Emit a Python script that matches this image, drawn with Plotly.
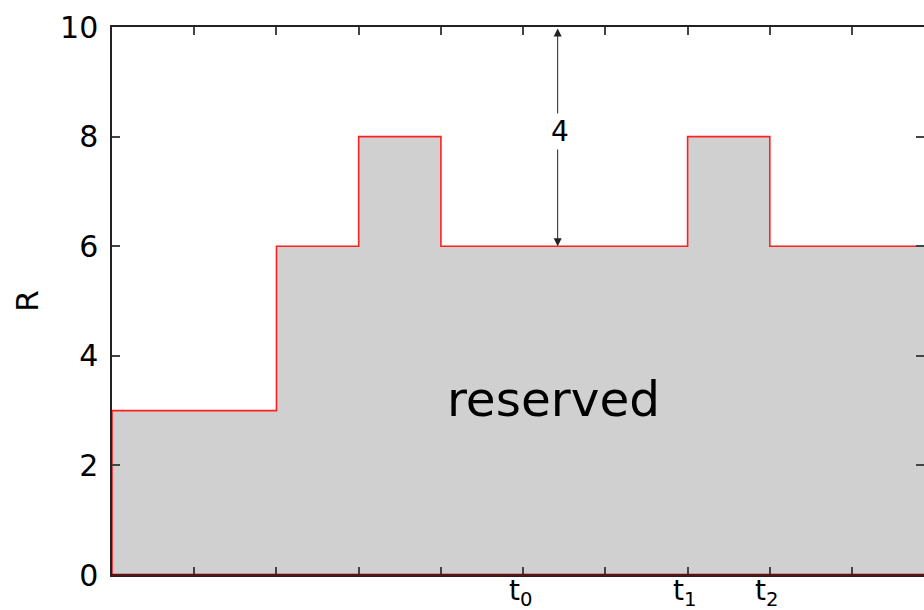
import plotly.graph_objects as go

# step profile of reserved R
step_x = [0, 0, 2, 2, 3, 3, 4, 4, 7, 7, 8, 8, 10]
step_y = [0, 3, 3, 6, 6, 8, 8, 6, 6, 8, 8, 6, 6]

x_tickvals = [0, 1, 2, 3, 4, 5, 6, 7, 8, 9, 10]
x_ticktext = ["", "", "", "", "", "t<sub>0</sub>", "", "t<sub>1</sub>", "t<sub>2</sub>", "", ""]
y_tickvals = [0, 2, 4, 6, 8, 10]

gap_x = 5.42
gap_top = 10
gap_bottom = 6
gap_label = "4"
region_label = "reserved"
region_pos = (5.37, 3.22)

FONT = "DejaVu Sans"

fig = go.Figure()
fig.add_trace(go.Scatter(
    x=step_x, y=step_y, mode="lines", fill="tozeroy",
    fillcolor="#d0d0d0", line=dict(color="#ff2020", width=1.6),
    hoverinfo="skip", showlegend=False))
# invisible trace to carry the right-hand tick axis
fig.add_trace(go.Scatter(
    x=[0, 10], y=[0, 10], yaxis="y2", mode="lines",
    line=dict(width=0, color="rgba(0,0,0,0)"), hoverinfo="skip", showlegend=False))

# double arrow
fig.add_annotation(x=gap_x, y=gap_bottom, ax=gap_x, ay=gap_top,
                   xref="x", yref="y", axref="x", ayref="y",
                   showarrow=True, arrowhead=2, arrowside="end+start",
                   arrowsize=1.6, arrowwidth=1, arrowcolor="#222222", text="")
fig.add_annotation(x=gap_x + 0.03, y=8.1, xref="x", yref="y", text=gap_label,
                   showarrow=False, bgcolor="white",
                   font=dict(family=FONT, size=28, color="black"))
fig.add_annotation(x=region_pos[0], y=region_pos[1], xref="x", yref="y",
                   text=region_label, showarrow=False,
                   font=dict(family=FONT, size=48.5, color="black"))

# x tick labels placed right under the axis
for tv, tt in zip(x_tickvals, x_ticktext):
    if tt:
        fig.add_annotation(x=tv, y=0, xref="x", yref="paper", text=tt,
                           showarrow=False, yanchor="top", xanchor="center",
                           borderpad=0, yshift=2, xshift=-3,
                           font=dict(family=FONT, size=28, color="black"))

# dark red baseline (red outline over the black axis)
fig.add_shape(type="line", xref="paper", yref="paper", x0=0, x1=1, y0=0, y1=0,
              line=dict(color="#5a1212", width=2.5), layer="above")

fig.update_layout(
    width=924, height=610,
    margin=dict(l=112, r=0, t=27, b=35, autoexpand=False),
    paper_bgcolor="white", plot_bgcolor="white",
    font=dict(family=FONT, size=30, color="black"),
    xaxis=dict(range=[0, 9.875], tickvals=x_tickvals, showticklabels=False,
               ticks="inside", ticklen=8, tickwidth=1.5, tickcolor="#444444",
               showline=True, linecolor="#222222", linewidth=1.5, mirror="ticks",
               showgrid=False, zeroline=False, automargin=False),
    yaxis=dict(range=[0, 10], tickvals=y_tickvals,
               ticks="inside", ticklen=8, tickwidth=1.5, tickcolor="#444444",
               showline=True, linecolor="#222222", linewidth=1.5,
               showgrid=False, zeroline=False, ticklabelstandoff=6, automargin=False,
               title=dict(text="R", standoff=12, font=dict(family=FONT, size=31)),
               tickfont=dict(family=FONT, size=30)),
    yaxis2=dict(range=[0, 10], tickvals=y_tickvals, overlaying="y", side="right",
                ticks="inside", ticklen=8, tickwidth=1.5, tickcolor="#444444",
                showticklabels=False, showline=False, showgrid=False, zeroline=False,
                automargin=False),
)

fig.write_html("out.html")
